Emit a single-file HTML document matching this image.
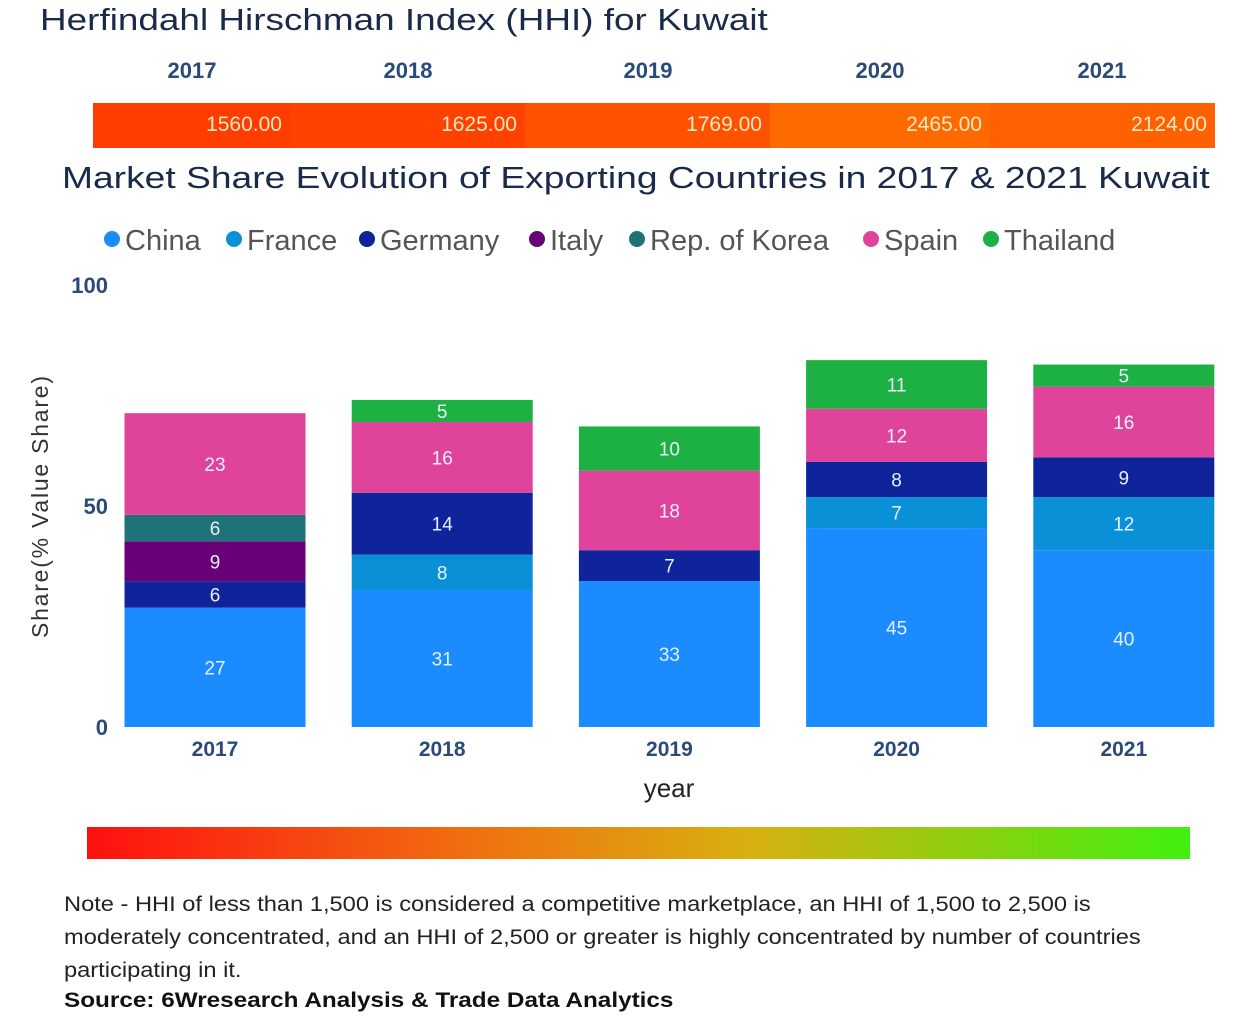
<!DOCTYPE html>
<html><head><meta charset="utf-8">
<style>
body{margin:0;width:1234px;height:1031px;background:#fff;font-family:"Liberation Sans",sans-serif;overflow:hidden;position:relative}
.abs{position:absolute;transform-origin:left top;white-space:nowrap}
</style></head>
<body>
<div class="abs" style="left:40px;top:2px;font-size:31px;color:#1a2a4a;transform:scaleX(1.19)">Herfindahl Hirschman Index (HHI) for Kuwait</div>
<svg class="abs" style="left:0;top:0" width="1234" height="1031" id="svg"></svg>
<div class="abs" style="left:62px;top:160px;font-size:31px;color:#1a2a4a;transform:scaleX(1.2)">Market Share Evolution of Exporting Countries in 2017 &amp; 2021 Kuwait</div>
<div class="abs" style="left:64px;top:888px;width:1045px;white-space:normal;font-size:21.5px;line-height:33px;color:#222;transform:scaleX(1.1)">Note - HHI of less than 1,500 is considered a competitive marketplace, an HHI of 1,500 to 2,500 is moderately concentrated, and an HHI of 2,500 or greater is highly concentrated by number of countries participating in it.</div>
<div class="abs" style="left:64px;top:988px;font-size:21.5px;font-weight:bold;color:#111;transform:scaleX(1.13)">Source: 6Wresearch Analysis &amp; Trade Data Analytics</div>
<script>
const years=["2017","2018","2019","2020","2021"];
const hhi=[1560,1625,1769,2465,2124];
const seriesNames=["China","France","Germany","Italy","Rep. of Korea","Spain","Thailand"];
const china=[27,31,33,45,40];
const france=[0,8,0,7,12];
const germany=[6,14,7,8,9];
const italy=[9,0,0,0,0];
const korea=[6,0,0,0,0];
const spain=[23,16,18,12,16];
const thailand=[0,5,10,11,5];
const yTicks=[0,50,100];
const colors=["#1a8cff","#0a90d6","#0f239a","#6a0078","#1f7378","#e0449a","#1db144"];
const series=[china,france,germany,italy,korea,spain,thailand];
const NS="http://www.w3.org/2000/svg";
const svg=document.getElementById('svg');
function mk(t,a,txt){const e=document.createElementNS(NS,t);for(const k in a)e.setAttribute(k,a[k]);if(txt!==undefined)e.textContent=txt;svg.appendChild(e);return e;}
const y0=727,y1=285;
const yS=v=>y0-(v/100)*(y0-y1);
const xC=i=>215+i*227.2, bw=181;
const hStarts=[93,290,525,770,990], hEnds=[290,525,770,990,1215];
const hCol=["#ff3d00","#ff4200","#ff5200","#ff6a00","#ff6000"];
const hLab=[192,408,648,880,1102];
years.forEach((y,i)=>{
 let t=mk('text',{x:hLab[i],y:78,'text-anchor':'middle','font-size':22,'font-weight':'bold',fill:'#2a4a7a'},y);
 
 
 let r=mk('rect',{x:hStarts[i],y:103,width:hEnds[i]-hStarts[i],height:45,fill:hCol[i]});
 
 
 let v=mk('text',{x:hEnds[i]-8,y:131,'text-anchor':'end','font-size':21,fill:'#ffe8c0'},hhi[i].toFixed(2));
 
 
});
const legX=[103,225,358,528,628,862,982];
seriesNames.forEach((n,i)=>{
 let c=mk('circle',{cx:legX[i]+9,cy:239,r:8,fill:colors[i]});
 
 
 let t=mk('text',{x:legX[i]+22,y:250,'font-size':29,fill:'#555'},n);
 
 
});
yTicks.forEach(v=>{
 let t=mk('text',{x:108,y:yS(v)+8,'text-anchor':'end','font-size':22,'font-weight':'bold',fill:'#2a4a7a'},v);
 
 
});
let yt=mk('text',{x:0,y:0,'font-size':23,fill:'#333','text-anchor':'middle',transform:'translate(48,507) rotate(-90)',textLength:262},'Share(% Value Share)');


years.forEach((y,i)=>{
 let acc=0;
 series.forEach((s,k)=>{
  const v=s[i]; if(!v) return;
  const top=yS(acc+v), bot=yS(acc);
  let r=mk('rect',{x:xC(i)-bw/2,y:top,width:bw,height:bot-top,fill:colors[k]});
  
  
  let t=mk('text',{x:xC(i),y:(top+bot)/2+7,'text-anchor':'middle','font-size':19,fill:'#e8f0ff'},v);
  
  
  acc+=v;
 });
 let t=mk('text',{x:xC(i),y:756,'text-anchor':'middle','font-size':21,'font-weight':'bold',fill:'#2a4a7a'},y);
 
 
});
let xt=mk('text',{x:669,y:797,'text-anchor':'middle','font-size':26,fill:'#222'},'year');


const d=mk('defs',{});
d.innerHTML='<linearGradient id="g" x1="0" x2="1"><stop offset="0" stop-color="#ff1010"/><stop offset="0.35" stop-color="#f07010"/><stop offset="0.6" stop-color="#d8b010"/><stop offset="1" stop-color="#40f010"/></linearGradient>';
let g=mk('rect',{x:87,y:827,width:1103,height:32,fill:'url(#g)'});


</script>
</body></html>
